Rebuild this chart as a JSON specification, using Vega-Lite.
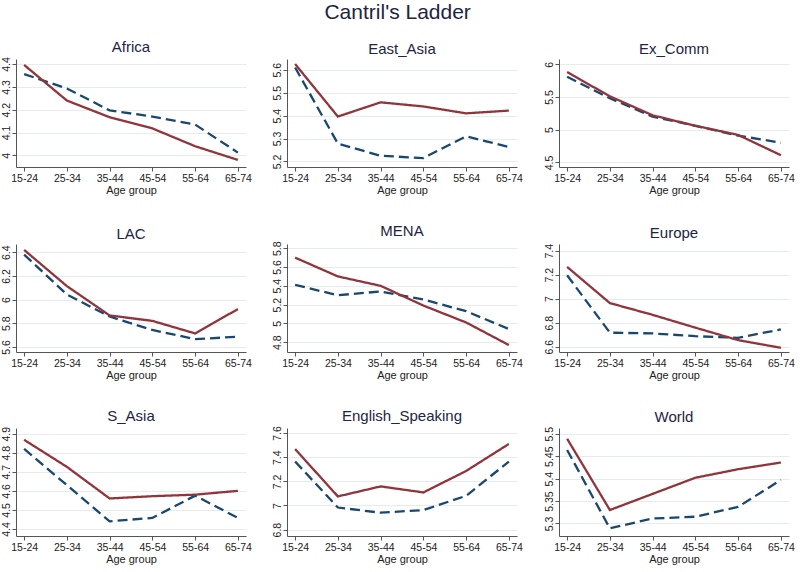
{
"$schema": "https://vega.github.io/schema/vega-lite/v6.json",
"background": "white",
"padding": {"left": 1, "top": 1, "right": 0, "bottom": 0},
"title": {"text": "Cantril's Ladder", "fontSize": 21, "font": "Liberation Sans", "fontWeight": "normal", "color": "#1c2541", "anchor": "middle", "offset": 17},
"datasets": {"d": [
{"region":"Africa","age":"15-24","series":"Series 2","value":4.356},
{"region":"Africa","age":"25-34","series":"Series 2","value":4.293},
{"region":"Africa","age":"35-44","series":"Series 2","value":4.197},
{"region":"Africa","age":"45-54","series":"Series 2","value":4.17},
{"region":"Africa","age":"55-64","series":"Series 2","value":4.135},
{"region":"Africa","age":"65-74","series":"Series 2","value":4.012},
{"region":"Africa","age":"15-24","series":"Series 1","value":4.396},
{"region":"Africa","age":"25-34","series":"Series 1","value":4.24},
{"region":"Africa","age":"35-44","series":"Series 1","value":4.167},
{"region":"Africa","age":"45-54","series":"Series 1","value":4.118},
{"region":"Africa","age":"55-64","series":"Series 1","value":4.04},
{"region":"Africa","age":"65-74","series":"Series 1","value":3.98},
{"region":"East_Asia","age":"15-24","series":"Series 2","value":5.61},
{"region":"East_Asia","age":"25-34","series":"Series 2","value":5.278},
{"region":"East_Asia","age":"35-44","series":"Series 2","value":5.225},
{"region":"East_Asia","age":"45-54","series":"Series 2","value":5.215},
{"region":"East_Asia","age":"55-64","series":"Series 2","value":5.31},
{"region":"East_Asia","age":"65-74","series":"Series 2","value":5.263},
{"region":"East_Asia","age":"15-24","series":"Series 1","value":5.625},
{"region":"East_Asia","age":"25-34","series":"Series 1","value":5.396},
{"region":"East_Asia","age":"35-44","series":"Series 1","value":5.458},
{"region":"East_Asia","age":"45-54","series":"Series 1","value":5.44},
{"region":"East_Asia","age":"55-64","series":"Series 1","value":5.41},
{"region":"East_Asia","age":"65-74","series":"Series 1","value":5.422},
{"region":"Ex_Comm","age":"15-24","series":"Series 2","value":5.81},
{"region":"Ex_Comm","age":"25-34","series":"Series 2","value":5.48},
{"region":"Ex_Comm","age":"35-44","series":"Series 2","value":5.2},
{"region":"Ex_Comm","age":"45-54","series":"Series 2","value":5.06},
{"region":"Ex_Comm","age":"55-64","series":"Series 2","value":4.91},
{"region":"Ex_Comm","age":"65-74","series":"Series 2","value":4.8},
{"region":"Ex_Comm","age":"15-24","series":"Series 1","value":5.88},
{"region":"Ex_Comm","age":"25-34","series":"Series 1","value":5.51},
{"region":"Ex_Comm","age":"35-44","series":"Series 1","value":5.22},
{"region":"Ex_Comm","age":"45-54","series":"Series 1","value":5.06},
{"region":"Ex_Comm","age":"55-64","series":"Series 1","value":4.92},
{"region":"Ex_Comm","age":"65-74","series":"Series 1","value":4.61},
{"region":"LAC","age":"15-24","series":"Series 2","value":6.38},
{"region":"LAC","age":"25-34","series":"Series 2","value":6.043},
{"region":"LAC","age":"35-44","series":"Series 2","value":5.857},
{"region":"LAC","age":"45-54","series":"Series 2","value":5.743},
{"region":"LAC","age":"55-64","series":"Series 2","value":5.666},
{"region":"LAC","age":"65-74","series":"Series 2","value":5.686},
{"region":"LAC","age":"15-24","series":"Series 1","value":6.42},
{"region":"LAC","age":"25-34","series":"Series 1","value":6.114},
{"region":"LAC","age":"35-44","series":"Series 1","value":5.866},
{"region":"LAC","age":"45-54","series":"Series 1","value":5.82},
{"region":"LAC","age":"55-64","series":"Series 1","value":5.714},
{"region":"LAC","age":"65-74","series":"Series 1","value":5.92},
{"region":"MENA","age":"15-24","series":"Series 2","value":5.41},
{"region":"MENA","age":"25-34","series":"Series 2","value":5.3},
{"region":"MENA","age":"35-44","series":"Series 2","value":5.34},
{"region":"MENA","age":"45-54","series":"Series 2","value":5.255},
{"region":"MENA","age":"55-64","series":"Series 2","value":5.13},
{"region":"MENA","age":"65-74","series":"Series 2","value":4.94},
{"region":"MENA","age":"15-24","series":"Series 1","value":5.7},
{"region":"MENA","age":"25-34","series":"Series 1","value":5.5},
{"region":"MENA","age":"35-44","series":"Series 1","value":5.4},
{"region":"MENA","age":"45-54","series":"Series 1","value":5.19},
{"region":"MENA","age":"55-64","series":"Series 1","value":5.01},
{"region":"MENA","age":"65-74","series":"Series 1","value":4.77},
{"region":"Europe","age":"15-24","series":"Series 2","value":7.195},
{"region":"Europe","age":"25-34","series":"Series 2","value":6.716},
{"region":"Europe","age":"35-44","series":"Series 2","value":6.71},
{"region":"Europe","age":"45-54","series":"Series 2","value":6.687},
{"region":"Europe","age":"55-64","series":"Series 2","value":6.673},
{"region":"Europe","age":"65-74","series":"Series 2","value":6.744},
{"region":"Europe","age":"15-24","series":"Series 1","value":7.265},
{"region":"Europe","age":"25-34","series":"Series 1","value":6.963},
{"region":"Europe","age":"35-44","series":"Series 1","value":6.865},
{"region":"Europe","age":"45-54","series":"Series 1","value":6.758},
{"region":"Europe","age":"55-64","series":"Series 1","value":6.654},
{"region":"Europe","age":"65-74","series":"Series 1","value":6.59},
{"region":"S_Asia","age":"15-24","series":"Series 2","value":4.82},
{"region":"S_Asia","age":"25-34","series":"Series 2","value":4.63},
{"region":"S_Asia","age":"35-44","series":"Series 2","value":4.44},
{"region":"S_Asia","age":"45-54","series":"Series 2","value":4.458},
{"region":"S_Asia","age":"55-64","series":"Series 2","value":4.575},
{"region":"S_Asia","age":"65-74","series":"Series 2","value":4.458},
{"region":"S_Asia","age":"15-24","series":"Series 1","value":4.868},
{"region":"S_Asia","age":"25-34","series":"Series 1","value":4.726},
{"region":"S_Asia","age":"35-44","series":"Series 1","value":4.56},
{"region":"S_Asia","age":"45-54","series":"Series 1","value":4.572},
{"region":"S_Asia","age":"55-64","series":"Series 1","value":4.58},
{"region":"S_Asia","age":"65-74","series":"Series 1","value":4.6},
{"region":"English_Speaking","age":"15-24","series":"Series 2","value":7.364},
{"region":"English_Speaking","age":"25-34","series":"Series 2","value":6.983},
{"region":"English_Speaking","age":"35-44","series":"Series 2","value":6.94},
{"region":"English_Speaking","age":"45-54","series":"Series 2","value":6.962},
{"region":"English_Speaking","age":"55-64","series":"Series 2","value":7.08},
{"region":"English_Speaking","age":"65-74","series":"Series 2","value":7.364},
{"region":"English_Speaking","age":"15-24","series":"Series 1","value":7.467},
{"region":"English_Speaking","age":"25-34","series":"Series 1","value":7.075},
{"region":"English_Speaking","age":"35-44","series":"Series 1","value":7.158},
{"region":"English_Speaking","age":"45-54","series":"Series 1","value":7.108},
{"region":"English_Speaking","age":"55-64","series":"Series 1","value":7.286},
{"region":"English_Speaking","age":"65-74","series":"Series 1","value":7.51},
{"region":"World","age":"15-24","series":"Series 2","value":5.464},
{"region":"World","age":"25-34","series":"Series 2","value":5.289},
{"region":"World","age":"35-44","series":"Series 2","value":5.311},
{"region":"World","age":"45-54","series":"Series 2","value":5.315},
{"region":"World","age":"55-64","series":"Series 2","value":5.337},
{"region":"World","age":"65-74","series":"Series 2","value":5.397},
{"region":"World","age":"15-24","series":"Series 1","value":5.489},
{"region":"World","age":"25-34","series":"Series 1","value":5.33},
{"region":"World","age":"35-44","series":"Series 1","value":5.366},
{"region":"World","age":"45-54","series":"Series 1","value":5.402},
{"region":"World","age":"55-64","series":"Series 1","value":5.421},
{"region":"World","age":"65-74","series":"Series 1","value":5.436}
]},
"columns": 3,
"spacing": {"row": 27, "column": 20},
"concat": [
{"title": "Africa", "data": {"name": "d"}, "transform": [{"filter": "datum.region === 'Africa'"}], "width": 230, "height": 108,
 "mark": {"type": "line", "strokeWidth": 2.3},
 "encoding": {
  "x": {"field": "age", "type": "ordinal", "scale": {"type": "point", "padding": 0.19}, "axis": {"title": "Age group"}},
  "y": {"field": "value", "type": "quantitative", "scale": {"domain": [3.949, 4.422], "zero": false, "nice": false}, "axis": {"values": [4, 4.1, 4.2, 4.3, 4.4], "title": null}},
  "color": {"field": "series", "type": "nominal", "scale": {"domain": ["Series 2", "Series 1"], "range": ["#1a476f", "#90353b"]}, "legend": null},
  "strokeDash": {"field": "series", "type": "nominal", "scale": {"domain": ["Series 2", "Series 1"], "range": [[10, 5], [1, 0]]}, "legend": null}
 }},
{"title": "East_Asia", "data": {"name": "d"}, "transform": [{"filter": "datum.region === 'East_Asia'"}], "width": 230, "height": 108,
 "mark": {"type": "line", "strokeWidth": 2.3},
 "encoding": {
  "x": {"field": "age", "type": "ordinal", "scale": {"type": "point", "padding": 0.19}, "axis": {"title": "Age group"}},
  "y": {"field": "value", "type": "quantitative", "scale": {"domain": [5.176, 5.647], "zero": false, "nice": false}, "axis": {"values": [5.2, 5.3, 5.4, 5.5, 5.6], "title": null}},
  "color": {"field": "series", "type": "nominal", "scale": {"domain": ["Series 2", "Series 1"], "range": ["#1a476f", "#90353b"]}, "legend": null},
  "strokeDash": {"field": "series", "type": "nominal", "scale": {"domain": ["Series 2", "Series 1"], "range": [[10, 5], [1, 0]]}, "legend": null}
 }},
{"title": "Ex_Comm", "data": {"name": "d"}, "transform": [{"filter": "datum.region === 'Ex_Comm'"}], "width": 230, "height": 108,
 "mark": {"type": "line", "strokeWidth": 2.3},
 "encoding": {
  "x": {"field": "age", "type": "ordinal", "scale": {"type": "point", "padding": 0.19}, "axis": {"title": "Age group"}},
  "y": {"field": "value", "type": "quantitative", "scale": {"domain": [4.43, 6.08], "zero": false, "nice": false}, "axis": {"values": [4.5, 5, 5.5, 6], "title": null}},
  "color": {"field": "series", "type": "nominal", "scale": {"domain": ["Series 2", "Series 1"], "range": ["#1a476f", "#90353b"]}, "legend": null},
  "strokeDash": {"field": "series", "type": "nominal", "scale": {"domain": ["Series 2", "Series 1"], "range": [[10, 5], [1, 0]]}, "legend": null}
 }},
{"title": "LAC", "data": {"name": "d"}, "transform": [{"filter": "datum.region === 'LAC'"}], "width": 230, "height": 108,
 "mark": {"type": "line", "strokeWidth": 2.3},
 "encoding": {
  "x": {"field": "age", "type": "ordinal", "scale": {"type": "point", "padding": 0.19}, "axis": {"title": "Age group"}},
  "y": {"field": "value", "type": "quantitative", "scale": {"domain": [5.557, 6.47], "zero": false, "nice": false}, "axis": {"values": [5.6, 5.8, 6, 6.2, 6.4], "title": null}},
  "color": {"field": "series", "type": "nominal", "scale": {"domain": ["Series 2", "Series 1"], "range": ["#1a476f", "#90353b"]}, "legend": null},
  "strokeDash": {"field": "series", "type": "nominal", "scale": {"domain": ["Series 2", "Series 1"], "range": [[10, 5], [1, 0]]}, "legend": null}
 }},
{"title": "MENA", "data": {"name": "d"}, "transform": [{"filter": "datum.region === 'MENA'"}], "width": 230, "height": 108,
 "mark": {"type": "line", "strokeWidth": 2.3},
 "encoding": {
  "x": {"field": "age", "type": "ordinal", "scale": {"type": "point", "padding": 0.19}, "axis": {"title": "Age group"}},
  "y": {"field": "value", "type": "quantitative", "scale": {"domain": [4.696, 5.845], "zero": false, "nice": false}, "axis": {"values": [4.8, 5, 5.2, 5.4, 5.6, 5.8], "title": null}},
  "color": {"field": "series", "type": "nominal", "scale": {"domain": ["Series 2", "Series 1"], "range": ["#1a476f", "#90353b"]}, "legend": null},
  "strokeDash": {"field": "series", "type": "nominal", "scale": {"domain": ["Series 2", "Series 1"], "range": [[10, 5], [1, 0]]}, "legend": null}
 }},
{"title": "Europe", "data": {"name": "d"}, "transform": [{"filter": "datum.region === 'Europe'"}], "width": 230, "height": 108,
 "mark": {"type": "line", "strokeWidth": 2.3},
 "encoding": {
  "x": {"field": "age", "type": "ordinal", "scale": {"type": "point", "padding": 0.19}, "axis": {"title": "Age group"}},
  "y": {"field": "value", "type": "quantitative", "scale": {"domain": [6.555, 7.456], "zero": false, "nice": false}, "axis": {"values": [6.6, 6.8, 7, 7.2, 7.4], "title": null}},
  "color": {"field": "series", "type": "nominal", "scale": {"domain": ["Series 2", "Series 1"], "range": ["#1a476f", "#90353b"]}, "legend": null},
  "strokeDash": {"field": "series", "type": "nominal", "scale": {"domain": ["Series 2", "Series 1"], "range": [[10, 5], [1, 0]]}, "legend": null}
 }},
{"title": "S_Asia", "data": {"name": "d"}, "transform": [{"filter": "datum.region === 'S_Asia'"}], "width": 230, "height": 108,
 "mark": {"type": "line", "strokeWidth": 2.3},
 "encoding": {
  "x": {"field": "age", "type": "ordinal", "scale": {"type": "point", "padding": 0.19}, "axis": {"title": "Age group"}},
  "y": {"field": "value", "type": "quantitative", "scale": {"domain": [4.363, 4.93], "zero": false, "nice": false}, "axis": {"values": [4.4, 4.5, 4.6, 4.7, 4.8, 4.9], "title": null}},
  "color": {"field": "series", "type": "nominal", "scale": {"domain": ["Series 2", "Series 1"], "range": ["#1a476f", "#90353b"]}, "legend": null},
  "strokeDash": {"field": "series", "type": "nominal", "scale": {"domain": ["Series 2", "Series 1"], "range": [[10, 5], [1, 0]]}, "legend": null}
 }},
{"title": "English_Speaking", "data": {"name": "d"}, "transform": [{"filter": "datum.region === 'English_Speaking'"}], "width": 230, "height": 108,
 "mark": {"type": "line", "strokeWidth": 2.3},
 "encoding": {
  "x": {"field": "age", "type": "ordinal", "scale": {"type": "point", "padding": 0.19}, "axis": {"title": "Age group"}},
  "y": {"field": "value", "type": "quantitative", "scale": {"domain": [6.747, 7.642], "zero": false, "nice": false}, "axis": {"values": [6.8, 7, 7.2, 7.4, 7.6], "title": null}},
  "color": {"field": "series", "type": "nominal", "scale": {"domain": ["Series 2", "Series 1"], "range": ["#1a476f", "#90353b"]}, "legend": null},
  "strokeDash": {"field": "series", "type": "nominal", "scale": {"domain": ["Series 2", "Series 1"], "range": [[10, 5], [1, 0]]}, "legend": null}
 }},
{"title": "World", "data": {"name": "d"}, "transform": [{"filter": "datum.region === 'World'"}], "width": 230, "height": 108,
 "mark": {"type": "line", "strokeWidth": 2.3},
 "encoding": {
  "x": {"field": "age", "type": "ordinal", "scale": {"type": "point", "padding": 0.19}, "axis": {"title": "Age group"}},
  "y": {"field": "value", "type": "quantitative", "scale": {"domain": [5.272, 5.513], "zero": false, "nice": false}, "axis": {"values": [5.3, 5.35, 5.4, 5.45, 5.5], "title": null}},
  "color": {"field": "series", "type": "nominal", "scale": {"domain": ["Series 2", "Series 1"], "range": ["#1a476f", "#90353b"]}, "legend": null},
  "strokeDash": {"field": "series", "type": "nominal", "scale": {"domain": ["Series 2", "Series 1"], "range": [[10, 5], [1, 0]]}, "legend": null}
 }}
],
"config": {
 "font": "Liberation Sans",
 "view": {"stroke": null},
 "title": {"fontSize": 15, "fontWeight": "normal", "color": "#1c2541", "offset": 2, "font": "Liberation Sans"},
 "axis": {"labelFont": "Liberation Sans", "titleFont": "Liberation Sans", "labelFontSize": 10.5, "labelColor": "#222222", "titleColor": "#222222", "titleFontWeight": "normal", "titleFontSize": 11, "domainColor": "#555555", "tickColor": "#555555", "tickSize": 4},
 "axisX": {"labelAngle": 0, "grid": false, "titlePadding": 1, "labelPadding": 2},
 "axisY": {"labelAngle": -90, "labelAlign": "center", "labelBaseline": "bottom", "labelPadding": 1, "format": "~g", "grid": true, "gridColor": "#e6ecee", "labelFlush": false, "labelOverlap": false}
}
}
